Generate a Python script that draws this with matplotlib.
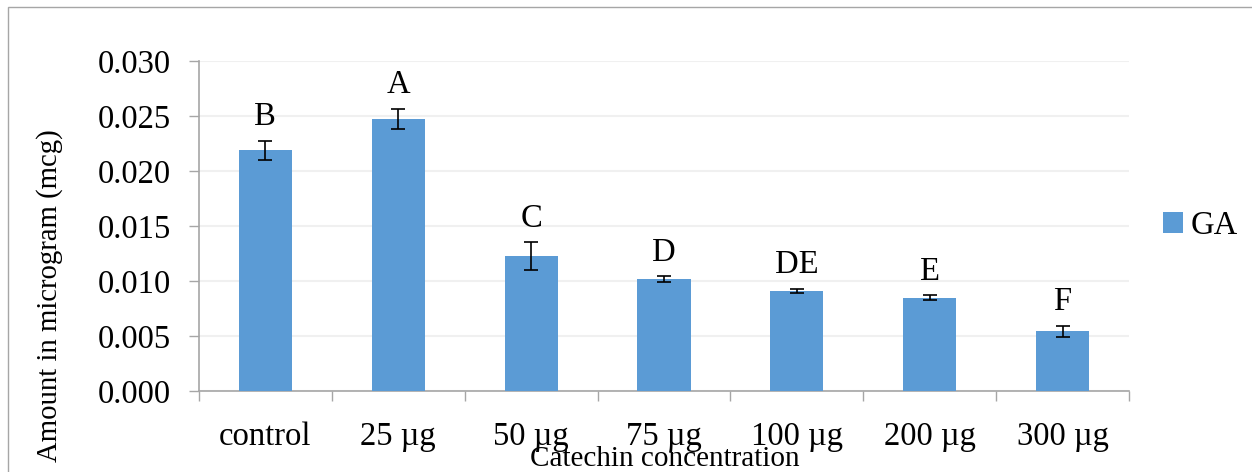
import matplotlib.pyplot as plt
from matplotlib.patches import Rectangle
import numpy as np

categories = ["control", "25 µg", "50 µg", "75 µg", "100 µg", "200 µg", "300 µg"]
ga_values = [0.0219, 0.02473, 0.01227, 0.01018, 0.00909, 0.0085, 0.00545]
ga_errors = [0.00086, 0.00095, 0.00127, 0.00027, 0.0002, 0.00023, 0.0005]
letters = ["B", "A", "C", "D", "DE", "E", "F"]

plt.rcParams['font.family'] = ['Liberation Serif', 'DejaVu Serif']

fig = plt.figure(figsize=(12.52, 4.72), dpi=100)
ax = fig.add_axes([199/1252, 1-391/472, 930/1252, 330/472])

x = np.arange(len(categories))
ax.bar(x, ga_values, width=0.4, color='#5b9bd5', label='GA', zorder=3)
ax.errorbar(x, ga_values, yerr=ga_errors, fmt='none', ecolor='black',
            elinewidth=1.2, capsize=5, capthick=1.2, zorder=4)

for xi, v, e, t in zip(x, ga_values, ga_errors, letters):
    ax.annotate(t, (xi, v + e), xytext=(0, 6), textcoords='offset points',
                ha='center', va='bottom', fontsize=23.5)

ax.set_xlim(-0.5, len(categories) - 0.5)
ax.set_ylim(0, 0.030)
ax.set_yticks(np.arange(0, 0.0301, 0.005))
ax.set_yticklabels(['%.3f' % v for v in np.arange(0, 0.0301, 0.005)])
ax.set_xticks(x)
ax.set_xticklabels(categories)
ax.set_xticks(np.arange(-0.5, len(categories)), minor=True)

ax.tick_params(axis='y', labelsize=23.5, length=7, width=1, color='#a6a6a6', pad=13)
ax.tick_params(axis='x', which='major', labelsize=23.5, length=0, pad=22)
ax.tick_params(axis='x', which='minor', length=7, width=1, color='#a6a6a6')

ax.grid(axis='y', color='#f0f0f0', linewidth=1.5, zorder=0)
for s in ['top', 'right']:
    ax.spines[s].set_visible(False)
for s in ['left', 'bottom']:
    ax.spines[s].set_color('#a6a6a6')
    ax.spines[s].set_linewidth(1.2)

ax.set_xlabel("Catechin concentration", fontsize=21)
ax.xaxis.set_label_coords(0.501, -0.167)
fig.text(50/1252, 1-296/472, "Amount in microgram (mcg)", rotation=90,
         ha='center', va='center', fontsize=20.7)

ax.legend(loc='center left', bbox_to_anchor=(1.005, 0.5), frameon=False,
          fontsize=23.5, handlelength=0.6, handleheight=0.6, handletextpad=0.25)

fig.patches.append(Rectangle((8/1252, -0.1), 1.2, 1-7/472+0.1, transform=fig.transFigure,
                             fill=False, edgecolor='#a6a6a6', linewidth=1))

fig.savefig('out.png', dpi=100)
